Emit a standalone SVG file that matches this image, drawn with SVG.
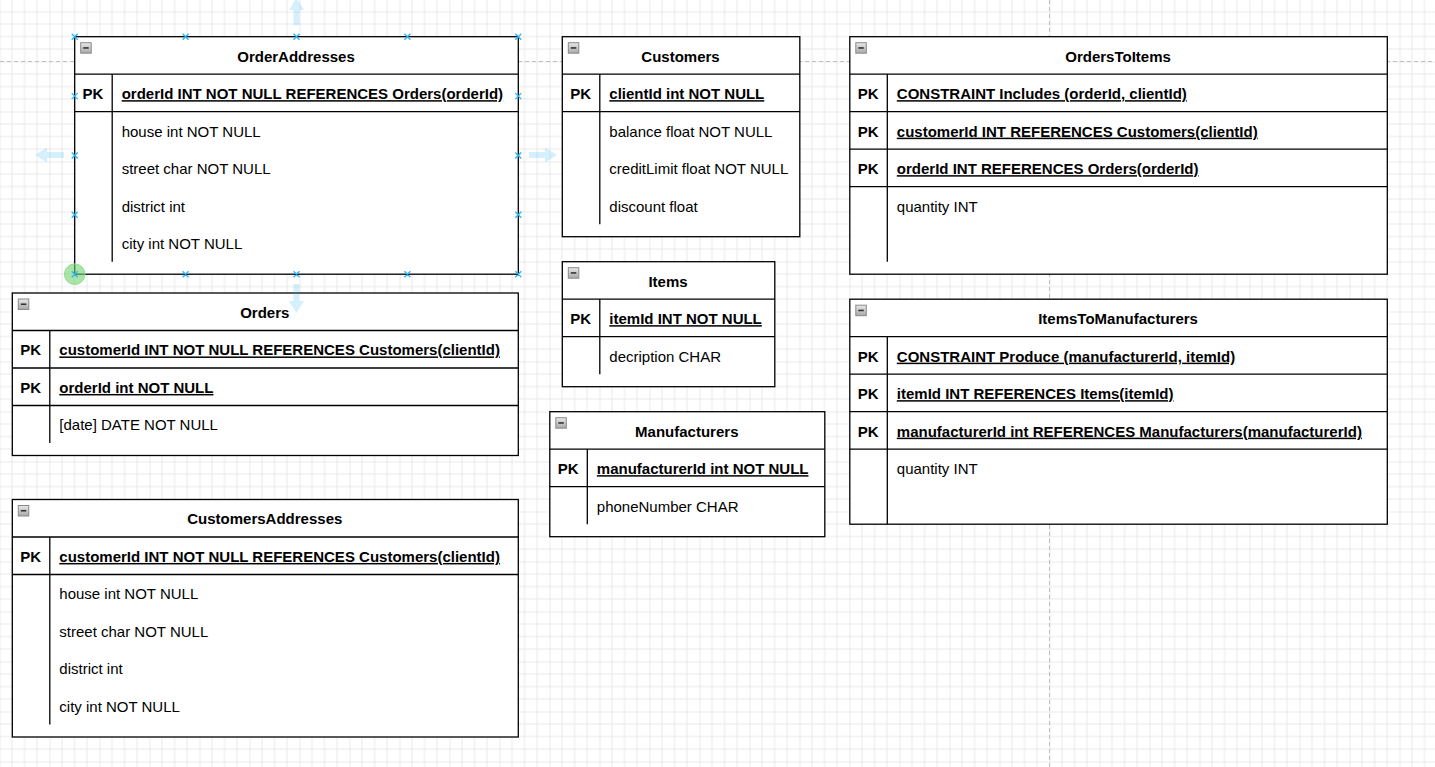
<svg xmlns="http://www.w3.org/2000/svg" xmlns:xlink="http://www.w3.org/1999/xlink" width="1435" height="767" viewBox="0 0 1435 767">
<style>
.frame{fill:#fff;stroke:#000;stroke-width:1.3}
.sep{stroke:#000;stroke-width:1.3;fill:none}
.t{font-family:"Liberation Sans",Arial,sans-serif;font-size:15px;fill:#000;transform:translate(-0.5px,0.8px)}
.title{font-weight:bold;text-anchor:middle}
.pk{font-weight:bold;text-anchor:middle}
.key{font-weight:bold;text-decoration:underline}
.handle{stroke:#29b6f2;stroke-width:1.3}
.hover{fill:#29b6f2;fill-opacity:0.2}
.page{stroke:#c0c0c0;stroke-width:1;stroke-dasharray:4 3}
</style>
<defs>
<pattern id="grid" patternUnits="userSpaceOnUse" x="-0.5" y="11.5" width="50" height="50">
<path d="M12.5 0V50M25 0V50M37.5 0V50M0 12.5H50M0 25H50M0 37.5H50" stroke="#e8e8e8" stroke-width="1"/>
<path d="M0 0V50M0 0H50" stroke="#d8d8d8" stroke-width="1"/>
</pattern>
<linearGradient id="cg" x1="0" y1="0" x2="0" y2="1">
<stop offset="0" stop-color="#e8e8e8"/>
<stop offset="1" stop-color="#a8a8a8"/>
</linearGradient>
<g id="collapse">
<rect x="0" y="0" width="10.5" height="10.5" fill="url(#cg)" stroke="#8a8a8a" stroke-width="1"/>
<path d="M2.5 5.25H8" stroke="#333" stroke-width="1.6"/>
</g>
</defs>
<rect width="1435" height="767" fill="#fff"/>
<rect width="1435" height="767" fill="url(#grid)"/>
<g id="page-breaks">
<path class="page" d="M0 61.5H1435"/>
<path class="page" d="M1049.5 0V767"/>
</g>
<g id="connectors"></g>

<g id="OrderAddresses">
<rect class="frame" x="74.7" y="36.7" width="443.6" height="237.5"/>
<path class="sep" d="M74.7 74.2H518.3M74.7 111.7H518.3M112.2 74.2V261.7"/>
<use xlink:href="#collapse" x="80.7" y="42.7"/>
<text class="t title" x="296.5" y="60.85">OrderAddresses</text>
<text class="t pk" x="93.45" y="98.35">PK</text>
<text class="t key" x="122.2" y="98.35">orderId INT NOT NULL REFERENCES Orders(orderId)</text>
<text class="t" x="122.2" y="135.85">house int NOT NULL</text>
<text class="t" x="122.2" y="173.35">street char NOT NULL</text>
<text class="t" x="122.2" y="210.85">district int</text>
<text class="t" x="122.2" y="248.35">city int NOT NULL</text>
</g>

<g id="Orders">
<rect class="frame" x="12.3" y="293" width="506" height="162.5"/>
<path class="sep" d="M12.3 330.5H518.3M12.3 368H518.3M12.3 405.5H518.3M49.8 330.5V443"/>
<use xlink:href="#collapse" x="18.3" y="299"/>
<text class="t title" x="265.3" y="317.15">Orders</text>
<text class="t pk" x="31.05" y="354.65">PK</text>
<text class="t key" x="59.8" y="354.65">customerId INT NOT NULL REFERENCES Customers(clientId)</text>
<text class="t pk" x="31.05" y="392.15">PK</text>
<text class="t key" x="59.8" y="392.15">orderId int NOT NULL</text>
<text class="t" x="59.8" y="429.65">[date] DATE NOT NULL</text>
</g>

<g id="CustomersAddresses">
<rect class="frame" x="12.3" y="499.5" width="506" height="237.5"/>
<path class="sep" d="M12.3 537H518.3M12.3 574.5H518.3M49.8 537V724.5"/>
<use xlink:href="#collapse" x="18.3" y="505.5"/>
<text class="t title" x="265.3" y="523.65">CustomersAddresses</text>
<text class="t pk" x="31.05" y="561.15">PK</text>
<text class="t key" x="59.8" y="561.15">customerId INT NOT NULL REFERENCES Customers(clientId)</text>
<text class="t" x="59.8" y="598.65">house int NOT NULL</text>
<text class="t" x="59.8" y="636.15">street char NOT NULL</text>
<text class="t" x="59.8" y="673.65">district int</text>
<text class="t" x="59.8" y="711.15">city int NOT NULL</text>
</g>

<g id="Customers">
<rect class="frame" x="562.3" y="36.7" width="237.5" height="200"/>
<path class="sep" d="M562.3 74.2H799.8M562.3 111.7H799.8M599.8 74.2V224.2"/>
<use xlink:href="#collapse" x="568.3" y="42.7"/>
<text class="t title" x="681.05" y="60.85">Customers</text>
<text class="t pk" x="581.05" y="98.35">PK</text>
<text class="t key" x="609.8" y="98.35">clientId int NOT NULL</text>
<text class="t" x="609.8" y="135.85">balance float NOT NULL</text>
<text class="t" x="609.8" y="173.35">creditLimit float NOT NULL</text>
<text class="t" x="609.8" y="210.85">discount float</text>
</g>

<g id="Items">
<rect class="frame" x="562.3" y="261.7" width="212.5" height="125"/>
<path class="sep" d="M562.3 299.2H774.8M562.3 336.7H774.8M599.8 299.2V374.2"/>
<use xlink:href="#collapse" x="568.3" y="267.7"/>
<text class="t title" x="668.55" y="285.85">Items</text>
<text class="t pk" x="581.05" y="323.35">PK</text>
<text class="t key" x="609.8" y="323.35">itemId INT NOT NULL</text>
<text class="t" x="609.8" y="360.85">decription CHAR</text>
</g>

<g id="Manufacturers">
<rect class="frame" x="549.8" y="411.7" width="275" height="125"/>
<path class="sep" d="M549.8 449.2H824.8M549.8 486.7H824.8M587.3 449.2V524.2"/>
<use xlink:href="#collapse" x="555.8" y="417.7"/>
<text class="t title" x="687.3" y="435.85">Manufacturers</text>
<text class="t pk" x="568.55" y="473.35">PK</text>
<text class="t key" x="597.3" y="473.35">manufacturerId int NOT NULL</text>
<text class="t" x="597.3" y="510.85">phoneNumber CHAR</text>
</g>

<g id="OrdersToItems">
<rect class="frame" x="849.8" y="36.7" width="537.5" height="237.5"/>
<path class="sep" d="M849.8 74.2H1387.3M849.8 111.7H1387.3M849.8 149.2H1387.3M849.8 186.7H1387.3M887.3 74.2V261.7"/>
<use xlink:href="#collapse" x="855.8" y="42.7"/>
<text class="t title" x="1118.55" y="60.85">OrdersToItems</text>
<text class="t pk" x="868.55" y="98.35">PK</text>
<text class="t key" x="897.3" y="98.35">CONSTRAINT Includes (orderId, clientId)</text>
<text class="t pk" x="868.55" y="135.85">PK</text>
<text class="t key" x="897.3" y="135.85">customerId INT REFERENCES Customers(clientId)</text>
<text class="t pk" x="868.55" y="173.35">PK</text>
<text class="t key" x="897.3" y="173.35">orderId INT REFERENCES Orders(orderId)</text>
<text class="t" x="897.3" y="210.85">quantity INT</text>
</g>

<g id="ItemsToManufacturers">
<rect class="frame" x="849.8" y="299.2" width="537.5" height="225"/>
<path class="sep" d="M849.8 336.7H1387.3M849.8 374.2H1387.3M849.8 411.7H1387.3M849.8 449.2H1387.3M887.3 336.7V524.2"/>
<use xlink:href="#collapse" x="855.8" y="305.2"/>
<text class="t title" x="1118.55" y="323.35">ItemsToManufacturers</text>
<text class="t pk" x="868.55" y="360.85">PK</text>
<text class="t key" x="897.3" y="360.85">CONSTRAINT Produce (manufacturerId, itemId)</text>
<text class="t pk" x="868.55" y="398.35">PK</text>
<text class="t key" x="897.3" y="398.35">itemId INT REFERENCES Items(itemId)</text>
<text class="t pk" x="868.55" y="435.85">PK</text>
<text class="t key" x="897.3" y="435.85">manufacturerId int REFERENCES Manufacturers(manufacturerId)</text>
<text class="t" x="897.3" y="473.35">quantity INT</text>
</g>

<g id="selection">
<path class="hover" d="M296.5 -2L304 10H299.5V25H293.5V10H289Z"/>
<path class="hover" d="M296.5 313L304 301H299.5V284H293.5V301H289Z"/>
<path class="hover" d="M35 155L47 147.5V152H64V158H47V162.5Z"/>
<path class="hover" d="M557 155L545 147.5V152H529V158H545V162.5Z"/>
<circle cx="74.7" cy="274.2" r="10.3" fill="#6fd46f" fill-opacity="0.6" stroke="#8fdf8f" stroke-width="1"/>
<path class="handle" d="M71.7 33.7l6 6m0 -6l-6 6M182.6 33.7l6 6m0 -6l-6 6M293.5 33.7l6 6m0 -6l-6 6M404.4 33.7l6 6m0 -6l-6 6M515.3 33.7l6 6m0 -6l-6 6M71.7 271.2l6 6m0 -6l-6 6M182.6 271.2l6 6m0 -6l-6 6M293.5 271.2l6 6m0 -6l-6 6M404.4 271.2l6 6m0 -6l-6 6M515.3 271.2l6 6m0 -6l-6 6M71.7 93.1l6 6m0 -6l-6 6M71.7 152.45l6 6m0 -6l-6 6M71.7 211.8l6 6m0 -6l-6 6M515.3 93.1l6 6m0 -6l-6 6M515.3 152.45l6 6m0 -6l-6 6M515.3 211.8l6 6m0 -6l-6 6"/>
</g>
</svg>
